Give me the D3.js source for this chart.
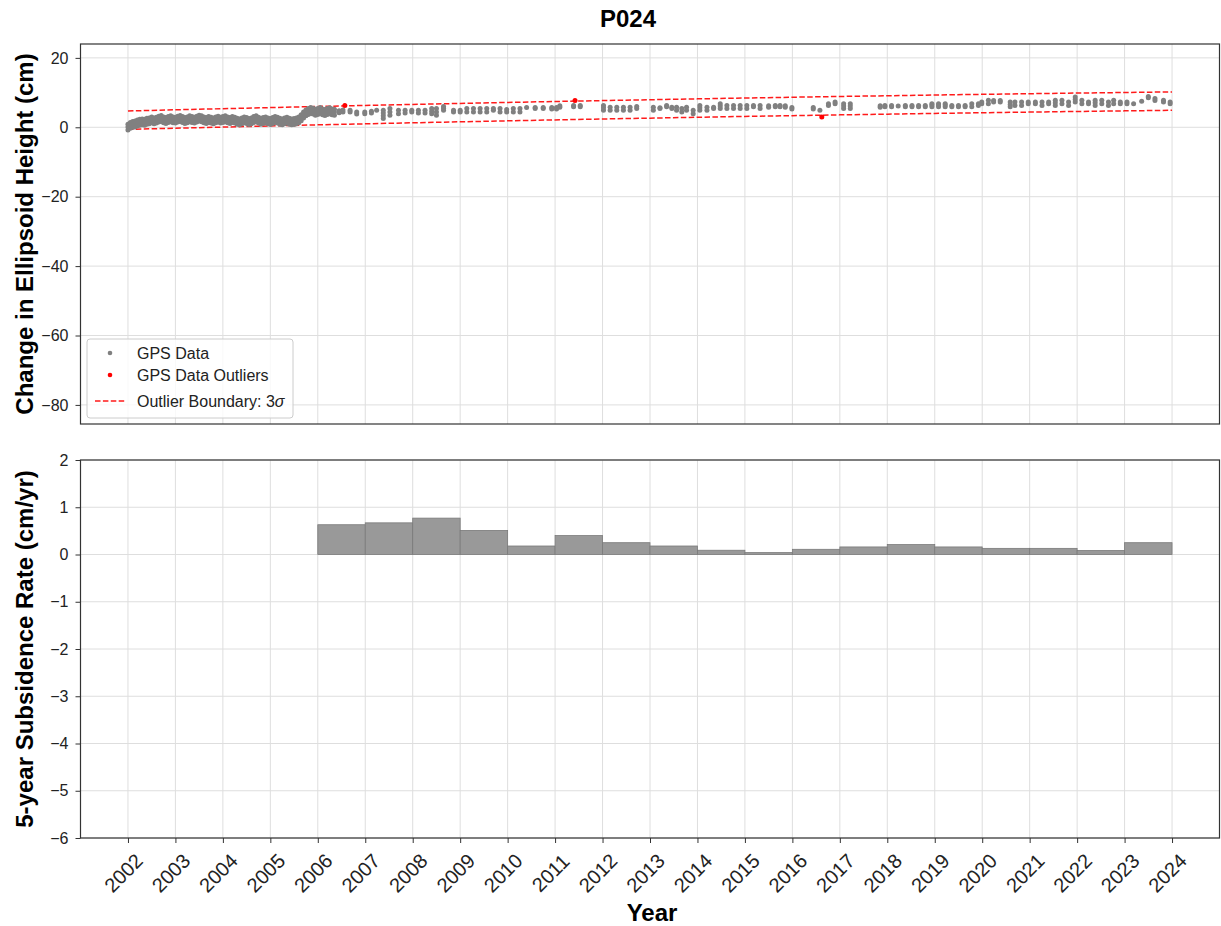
<!DOCTYPE html>
<html>
<head>
<meta charset="utf-8">
<script src="https://cdn.jsdelivr.net/npm/d3@7"></script>
<style>
  body { margin: 0; background: #fff; }
  svg { display: block; font-family: "Liberation Sans", Arial, sans-serif; }
</style>
</head>
<body>
<svg width="1221" height="926"></svg>
<script>
var yearTicks = [2002, 2003, 2004, 2005, 2006, 2007, 2008, 2009, 2010, 2011, 2012,
  2013, 2014, 2015, 2016, 2017, 2018, 2019, 2020, 2021, 2022, 2023, 2024];
var heightTicks = [20, 0, -20, -40, -60, -80];
var rateTicks = [2, 1, 0, -1, -2, -3, -4, -5, -6];

// outlier boundary (cm), one value per year 2002..2024
var upperBound = [4.70, 5.04, 5.36, 5.68, 6.00, 6.30, 6.59, 6.88, 7.16, 7.43, 7.69,
  7.94, 8.19, 8.43, 8.66, 8.88, 9.09, 9.30, 9.49, 9.68, 9.86, 10.03, 10.20];
var lowerBound = [-0.60, -0.26, 0.06, 0.38, 0.70, 1.00, 1.29, 1.58, 1.86, 2.13, 2.39,
  2.64, 2.89, 3.13, 3.36, 3.58, 3.79, 4.00, 4.19, 4.38, 4.56, 4.73, 4.90];

// GPS rows: [decimal year, height values (cm)...]
var gpsRows = [
  [2002.00, -0.8, 0.1, 0.9], [2002.05, -0.3, 0.6, 1.4], [2002.10, 0.0, 0.9, 1.7], [2002.15, 0.1, 1.0, 1.8],
  [2002.20, 0.4, 1.3, 2.1], [2002.25, 0.6, 1.5, 2.3], [2002.30, 0.7, 1.6, 2.4], [2002.35, 0.6, 1.5, 2.3],
  [2002.40, 0.9, 1.8, 2.6], [2002.45, 1.0, 1.9, 2.7], [2002.50, 1.3, 2.2, 3.0], [2002.55, 1.0, 1.9, 2.7],
  [2002.60, 1.2, 2.1, 2.9], [2002.65, 1.5, 2.4, 3.2], [2002.70, 1.7, 2.6, 3.4], [2002.75, 1.3, 2.2, 3.0],
  [2002.80, 1.1, 2.0, 2.8], [2002.85, 1.4, 2.3, 3.1], [2002.90, 1.6, 2.5, 3.3], [2002.95, 1.3, 2.2, 3.0],
  [2003.00, 1.2, 2.1, 2.9], [2003.05, 1.5, 2.4, 3.2], [2003.10, 1.7, 2.6, 3.4], [2003.15, 1.4, 2.3, 3.1],
  [2003.20, 1.1, 2.0, 2.8], [2003.25, 1.3, 2.2, 3.0], [2003.30, 1.6, 2.5, 3.3], [2003.35, 1.4, 2.3, 3.1],
  [2003.40, 1.2, 2.1, 2.9], [2003.45, 1.5, 2.4, 3.2], [2003.50, 1.8, 2.7, 3.5], [2003.55, 1.6, 2.5, 3.3],
  [2003.60, 1.3, 2.2, 3.0], [2003.65, 1.1, 2.0, 2.8], [2003.70, 1.4, 2.3, 3.1], [2003.75, 1.2, 2.1, 2.9],
  [2003.80, 1.0, 1.9, 2.7], [2003.85, 1.3, 2.2, 3.0], [2003.90, 1.5, 2.4, 3.2], [2003.95, 1.2, 2.1, 2.9],
  [2004.00, 1.4, 2.3, 3.1], [2004.05, 1.6, 2.5, 3.3], [2004.10, 1.3, 2.2, 3.0], [2004.15, 1.1, 2.0, 2.8],
  [2004.20, 1.4, 2.3, 3.1], [2004.25, 1.2, 2.1, 2.9], [2004.30, 0.9, 1.8, 2.6], [2004.35, 0.7, 1.6, 2.4],
  [2004.40, 1.0, 1.9, 2.7], [2004.45, 1.3, 2.2, 3.0], [2004.50, 1.1, 2.0, 2.8], [2004.55, 0.8, 1.7, 2.5],
  [2004.60, 1.0, 1.9, 2.7], [2004.65, 1.4, 2.3, 3.1], [2004.70, 1.6, 2.5, 3.3], [2004.75, 1.2, 2.1, 2.9],
  [2004.80, 0.9, 1.8, 2.6], [2004.85, 1.1, 2.0, 2.8], [2004.90, 1.3, 2.2, 3.0], [2004.95, 1.0, 1.9, 2.7],
  [2005.00, 0.8, 1.7, 2.5], [2005.05, 1.1, 2.0, 2.8], [2005.10, 1.4, 2.3, 3.1], [2005.15, 1.2, 2.1, 2.9],
  [2005.20, 0.9, 1.8, 2.6], [2005.25, 0.7, 1.6, 2.4], [2005.30, 1.0, 1.9, 2.7], [2005.35, 1.2, 2.1, 2.9],
  [2005.40, 0.9, 1.8, 2.6], [2005.45, 0.7, 1.6, 2.4], [2005.50, 0.8, 1.7, 2.5], [2005.55, 1.0, 1.9, 2.7],
  [2005.60, 1.3, 2.2, 3.0], [2005.65, 1.9, 2.8, 3.6], [2005.70, 2.7, 3.6, 4.4], [2005.75, 3.3, 4.2, 5.0],
  [2005.80, 3.7, 4.6, 5.4], [2005.85, 4.0, 4.9, 5.7], [2005.90, 3.8, 4.7, 5.5], [2005.95, 3.5, 4.4, 5.2],
  [2006.00, 3.7, 4.6, 5.4], [2006.05, 4.0, 4.9, 5.7], [2006.10, 3.6, 4.5, 5.3], [2006.15, 3.4, 4.3, 5.1],
  [2006.20, 3.7, 4.6, 5.4], [2006.25, 3.9, 4.8, 5.6], [2006.30, 3.6, 4.5, 5.3], [2006.35, 3.5, 4.4, 5.2],
  [2006.45, 4.2, 4.8], [2006.53, 4.4, 5.0], [2006.68, 4.4, 4.9], [2006.82, 3.8, 4.4],
  [2006.99, 3.9, 4.4], [2007.13, 4.1, 4.6], [2007.24, 4.9], [2007.38, 2.5, 3.3, 4.1, 4.9],
  [2007.52, 3.5, 4.4, 5.4], [2007.70, 3.9, 4.9], [2007.84, 4.1, 4.9], [2007.98, 4.4, 4.9],
  [2008.12, 4.1, 4.9], [2008.26, 4.1, 4.9], [2008.40, 3.9, 4.6, 5.4], [2008.50, 3.5, 4.4, 5.4],
  [2008.65, 4.9, 5.5, 6.0], [2008.86, 4.4, 4.9], [2009.00, 4.4, 4.9], [2009.14, 4.4, 5.4],
  [2009.28, 4.4, 5.4], [2009.42, 4.4, 5.4], [2009.56, 4.4, 5.4], [2009.70, 4.9, 5.4],
  [2009.84, 4.4, 5.4], [2009.98, 4.4, 5.1], [2010.12, 4.4, 5.4], [2010.26, 4.4, 5.4],
  [2010.40, 5.7], [2010.58, 5.4, 5.7], [2010.75, 5.4, 5.7], [2010.93, 5.3, 5.7],
  [2011.03, 5.3, 5.7], [2011.10, 5.8, 6.2], [2011.39, 5.9, 6.3], [2011.53, 5.9, 6.3],
  [2012.02, 4.9, 5.6, 6.3], [2012.16, 4.9, 5.8], [2012.30, 4.9, 5.8], [2012.44, 4.9, 5.8],
  [2012.58, 4.9, 5.8], [2012.72, 5.4, 6.0], [2013.07, 4.9, 5.8], [2013.21, 5.4, 5.6],
  [2013.35, 5.9, 6.3], [2013.46, 5.4, 5.8], [2013.56, 4.9, 5.8], [2013.67, 4.4, 5.4],
  [2013.77, 4.9, 5.8], [2013.91, 3.9, 4.9], [2014.05, 4.9, 5.6, 6.3], [2014.20, 4.9, 5.8],
  [2014.34, 5.4, 5.8], [2014.48, 5.4, 6.1, 6.8], [2014.62, 5.4, 6.3], [2014.76, 5.4, 6.3],
  [2014.90, 5.4, 6.3], [2015.04, 5.4, 6.3], [2015.18, 5.9, 6.3], [2015.32, 5.4, 6.3],
  [2015.50, 5.8, 6.2], [2015.64, 5.9, 6.3], [2015.74, 5.9, 6.3], [2015.85, 5.8, 6.2],
  [2015.99, 5.3, 5.7], [2016.44, 5.3, 5.7], [2016.58, 4.9], [2016.76, 6.3, 6.8],
  [2016.90, 6.8, 7.3], [2017.08, 5.4, 6.1, 6.8], [2017.22, 5.4, 6.1, 6.8], [2017.85, 5.8, 6.2],
  [2017.95, 5.9, 6.3], [2018.09, 5.9, 6.3], [2018.23, 6.1], [2018.38, 5.9, 6.3],
  [2018.52, 5.9, 6.3], [2018.66, 5.9, 6.3], [2018.80, 5.9, 6.3], [2018.94, 5.9, 6.4, 6.8],
  [2019.08, 5.9, 6.4, 6.8], [2019.22, 5.9, 6.4, 6.8], [2019.36, 5.9, 6.3], [2019.50, 5.9, 6.3],
  [2019.64, 5.9, 6.3], [2019.78, 5.9, 6.8], [2019.92, 6.3, 6.8], [2019.99, 6.8, 7.3],
  [2020.13, 6.8, 7.8], [2020.24, 7.3, 7.7], [2020.38, 7.3, 7.7], [2020.59, 5.9, 6.6, 7.3],
  [2020.69, 6.3, 7.3], [2020.83, 6.3, 7.3], [2020.97, 6.8, 7.3], [2021.12, 6.8, 7.3],
  [2021.26, 6.3, 7.3], [2021.40, 6.8, 7.3], [2021.54, 6.3, 7.1, 7.8], [2021.68, 6.8, 7.8],
  [2021.82, 6.3, 7.3], [2021.96, 7.3, 8.0, 8.7], [2022.10, 6.8, 7.8], [2022.24, 6.8, 7.3],
  [2022.38, 6.3, 7.1, 7.8], [2022.52, 6.8, 7.8], [2022.66, 6.3, 7.3], [2022.77, 6.8, 7.8],
  [2022.91, 6.8, 7.3], [2023.05, 6.8, 7.3], [2023.19, 6.8], [2023.36, 7.5],
  [2023.50, 8.5, 8.9], [2023.64, 7.7, 8.3], [2023.82, 7.3, 7.8], [2023.96, 6.8, 7.3]
];
var outliers = [[2006.57, 6.3], [2011.42, 7.7], [2016.62, 3.0]];

// 5-year subsidence rate (cm/yr), one bar per year
var rateYears = [2006, 2007, 2008, 2009, 2010, 2011, 2012, 2013, 2014,
  2015, 2016, 2017, 2018, 2019, 2020, 2021, 2022, 2023];
var rateValues = [0.63, 0.67, 0.77, 0.51, 0.18, 0.40, 0.25, 0.18, 0.09,
  0.04, 0.11, 0.16, 0.21, 0.16, 0.13, 0.13, 0.085, 0.25];

var svg = d3.select('svg');
var left = 80.5, right = 1219.5;
var top1 = 44, bot1 = 424, top2 = 460, bot2 = 838;
var gridColor = '#dedede', frameColor = '#333';

var x = d3.scaleLinear().domain([2001, 2025]).range([left, right]);
var yTop = d3.scaleLinear().domain([-85.5, 24]).range([bot1, top1]);
var yBot = d3.scaleLinear().domain([-6, 2]).range([bot2, top2]);

function drawGrid(g, yScale, yTicks, t, b) {
  g.selectAll('line.gx')
    .data(yearTicks)
    .enter()
    .append('line')
    .attr('x1', (d) => x(d))
    .attr('x2', (d) => x(d))
    .attr('y1', t)
    .attr('y2', b)
    .attr('stroke', gridColor)
    .attr('stroke-width', 1);
  g.selectAll('line.gy')
    .data(yTicks)
    .enter()
    .append('line')
    .attr('x1', left)
    .attr('x2', right)
    .attr('y1', (d) => yScale(d))
    .attr('y2', (d) => yScale(d))
    .attr('stroke', gridColor)
    .attr('stroke-width', 1);
}

function drawYAxis(g, yScale, yTicks) {
  var ax = g
    .append('g')
    .attr('transform', 'translate(' + left + ',0)')
    .call(d3.axisLeft(yScale).tickValues(yTicks).tickSize(5).tickPadding(7));
  ax.select('.domain').remove();
  ax.selectAll('line').attr('stroke', frameColor);
  ax.selectAll('text')
    .style('font-size', '16px')
    .style('font-family', '"Liberation Sans", Arial, sans-serif')
    .attr('fill', '#222');
}

function frame(t, b) {
  svg
    .append('rect')
    .attr('x', left)
    .attr('y', t)
    .attr('width', right - left)
    .attr('height', b - t)
    .attr('fill', 'none')
    .attr('stroke', frameColor)
    .attr('stroke-width', 1.2);
}

// ---- top panel ----
var g1 = svg.append('g');
drawGrid(g1, yTop, heightTicks, top1, bot1);

var boundLine = (vals) =>
  d3.line().x((d, i) => x(yearTicks[i])).y((d) => yTop(d))(vals);

[upperBound, lowerBound].forEach(function (vals) {
  g1.append('path')
    .attr('d', boundLine(vals))
    .attr('fill', 'none')
    .attr('stroke', '#ff1a1a')
    .attr('stroke-width', 1.5)
    .attr('stroke-dasharray', '5.5,2.4');
});

var gpsPoints = gpsRows.flatMap((r) => r.slice(1).map((v) => [r[0], v]));

g1.append('g')
  .selectAll('circle')
  .data(gpsPoints)
  .enter()
  .append('circle')
  .attr('cx', (d) => x(d[0]))
  .attr('cy', (d) => yTop(d[1]))
  .attr('r', 2.5)
  .attr('fill', '#808080');

g1.append('g')
  .selectAll('circle')
  .data(outliers)
  .enter()
  .append('circle')
  .attr('cx', (d) => x(d[0]))
  .attr('cy', (d) => yTop(d[1]))
  .attr('r', 2.5)
  .attr('fill', '#ff0000');

drawYAxis(g1, yTop, heightTicks);
frame(top1, bot1);

// legend
var legend = svg.append('g').attr('transform', 'translate(87,339)');
legend
  .append('rect')
  .attr('width', 206)
  .attr('height', 79)
  .attr('rx', 3)
  .attr('fill', 'rgba(255,255,255,0.8)')
  .attr('stroke', '#cccccc');
legend.append('circle').attr('cx', 23).attr('cy', 14).attr('r', 2.3).attr('fill', '#808080');
legend.append('circle').attr('cx', 23).attr('cy', 36).attr('r', 2.3).attr('fill', '#ff0000');
legend
  .append('line')
  .attr('x1', 8)
  .attr('x2', 38)
  .attr('y1', 62)
  .attr('y2', 62)
  .attr('stroke', '#ff1a1a')
  .attr('stroke-width', 1.5)
  .attr('stroke-dasharray', '5.5,2.4');
var legendText = ['GPS Data', 'GPS Data Outliers'];
legendText.forEach(function (t, i) {
  legend
    .append('text')
    .attr('x', 50)
    .attr('y', 14 + i * 22)
    .attr('dy', '0.35em')
    .style('font-size', '16px')
    .attr('fill', '#222')
    .text(t);
});
var lt = legend
  .append('text')
  .attr('x', 50)
  .attr('y', 62)
  .attr('dy', '0.35em')
  .style('font-size', '16px')
  .attr('fill', '#222');
lt.append('tspan').text('Outlier Boundary: 3');
lt.append('tspan').style('font-style', 'italic').text('σ');

// ---- bottom panel ----
var g2 = svg.append('g');
drawGrid(g2, yBot, rateTicks, top2, bot2);

g2.append('g')
  .selectAll('rect')
  .data(rateYears)
  .enter()
  .append('rect')
  .attr('x', (d) => x(d))
  .attr('width', (d) => x(d + 1) - x(d))
  .attr('y', (d, i) => yBot(Math.max(0, rateValues[i])))
  .attr('height', (d, i) => Math.abs(yBot(rateValues[i]) - yBot(0)))
  .attr('fill', '#999999')
  .attr('stroke', '#7a7a7a')
  .attr('stroke-width', 0.8);

drawYAxis(g2, yBot, rateTicks);

var xAx = g2
  .append('g')
  .attr('transform', 'translate(0,' + bot2 + ')')
  .call(d3.axisBottom(x).tickValues(yearTicks).tickSize(5).tickFormat(d3.format('d')));
xAx.select('.domain').remove();
xAx.selectAll('line').attr('stroke', frameColor);
xAx.selectAll('text')
  .attr('y', null)
  .attr('dy', null)
  .attr('text-anchor', 'middle')
  .attr('dominant-baseline', 'central')
  .attr('transform', 'translate(-5,35) rotate(-45)')
  .style('font-size', '20px')
  .style('font-family', '"Liberation Sans", Arial, sans-serif')
  .attr('fill', '#222');
frame(top2, bot2);

// ---- titles and labels ----
svg
  .append('text')
  .attr('x', 628)
  .attr('y', 27)
  .attr('text-anchor', 'middle')
  .style('font-size', '24px')
  .style('font-weight', 'bold')
  .text('P024');

svg
  .append('text')
  .attr('x', 652)
  .attr('y', 921)
  .attr('text-anchor', 'middle')
  .style('font-size', '24px')
  .style('font-weight', 'bold')
  .text('Year');

var yLabels = [
  ['Change in Ellipsoid Height (cm)', (top1 + bot1) / 2],
  ['5-year Subsidence Rate (cm/yr)', (top2 + bot2) / 2]
];
yLabels.forEach(function (d) {
  svg
    .append('text')
    .attr('transform', 'translate(33,' + d[1] + ') rotate(-90)')
    .attr('text-anchor', 'middle')
    .style('font-size', '24px')
    .style('font-weight', 'bold')
    .text(d[0]);
});
</script>
</body>
</html>
